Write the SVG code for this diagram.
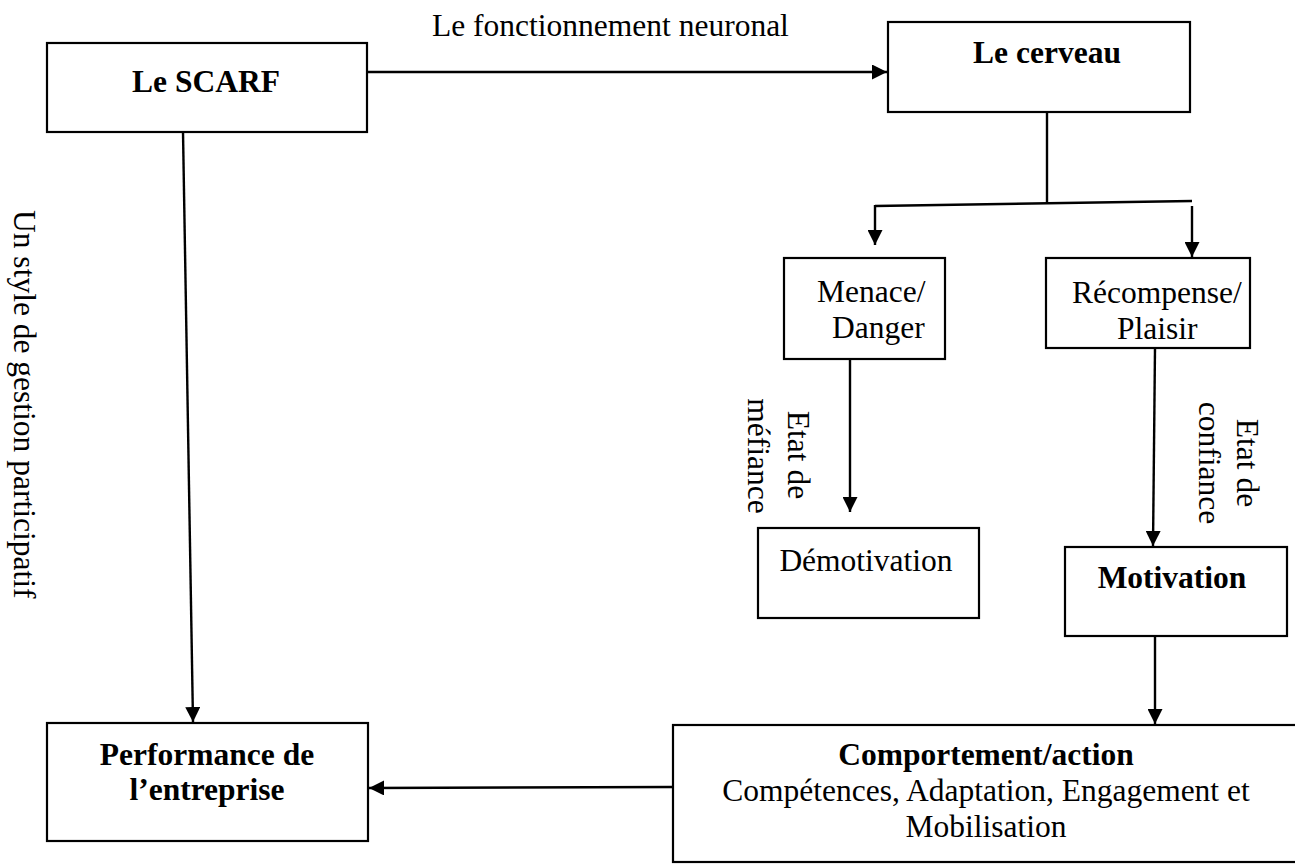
<svg xmlns="http://www.w3.org/2000/svg" width="1295" height="865" viewBox="0 0 1295 865">
<style>
  .box { fill: #ffffff; stroke: #000000; stroke-width: 2.2; }
  .ln { fill: none; stroke: #000000; stroke-width: 2.4; }
  .t { font-family: "Liberation Serif", "Times New Roman", serif; font-size: 31.5px; fill: #000000; }
  .b { font-weight: bold; }
  .c { text-anchor: middle; }
</style>
<defs>
  <marker id="arr" viewBox="0 0 10 10" refX="10" refY="5" markerWidth="15" markerHeight="15" markerUnits="userSpaceOnUse" orient="auto">
    <path d="M0,0 L10,5 L0,10 z" fill="#000000"/>
  </marker>
</defs>
<rect width="1295" height="865" fill="#ffffff"/>

<g id="connectors">
  <line class="ln" x1="367" y1="72" x2="887" y2="72" marker-end="url(#arr)"/>
  <line class="ln" x1="183" y1="132" x2="193" y2="722" marker-end="url(#arr)"/>
  <line class="ln" x1="1047" y1="112" x2="1047" y2="204"/>
  <line class="ln" x1="875" y1="206" x2="1192" y2="201"/>
  <line class="ln" x1="875" y1="205" x2="875" y2="245" marker-end="url(#arr)"/>
  <line class="ln" x1="1192" y1="206" x2="1192" y2="257" marker-end="url(#arr)"/>
  <line class="ln" x1="850" y1="359" x2="850" y2="512" marker-end="url(#arr)"/>
  <line class="ln" x1="1155" y1="348" x2="1153" y2="546" marker-end="url(#arr)"/>
  <line class="ln" x1="1155" y1="636" x2="1155" y2="724" marker-end="url(#arr)"/>
  <line class="ln" x1="673" y1="787" x2="369" y2="788" marker-end="url(#arr)"/>
</g>

<g id="label-fonctionnement">
  <text class="t" x="432" y="36">Le fonctionnement neuronal</text>
</g>
<g id="label-style">
  <text class="t" transform="translate(14,210) rotate(90)">Un style de gestion participatif</text>
</g>
<g id="label-mefiance">
  <text class="t c" transform="translate(788,455) rotate(90)">Etat de</text>
  <text class="t c" transform="translate(748,456) rotate(90)">méfiance</text>
</g>
<g id="label-confiance">
  <text class="t c" transform="translate(1237,463) rotate(90)">Etat de</text>
  <text class="t c" transform="translate(1199,463) rotate(90)">confiance</text>
</g>

<g id="node-scarf">
  <rect class="box" x="47" y="43" width="320" height="89"/>
  <text class="t b c" x="206" y="92">Le SCARF</text>
</g>
<g id="node-cerveau">
  <rect class="box" x="888" y="22" width="302" height="90"/>
  <text class="t b c" x="1047" y="63">Le cerveau</text>
</g>
<g id="node-menace">
  <rect class="box" x="784" y="258" width="161" height="101"/>
  <text class="t" x="817" y="302">Menace/</text>
  <text class="t" x="832" y="338">Danger</text>
</g>
<g id="node-recompense">
  <rect class="box" x="1046" y="258" width="204" height="90"/>
  <text class="t" x="1072" y="303">Récompense/</text>
  <text class="t" x="1117" y="339">Plaisir</text>
</g>
<g id="node-demotivation">
  <rect class="box" x="758" y="528" width="221" height="90"/>
  <text class="t c" x="866" y="571">Démotivation</text>
</g>
<g id="node-motivation">
  <rect class="box" x="1065" y="547" width="222" height="89"/>
  <text class="t b c" x="1172" y="588">Motivation</text>
</g>
<g id="node-comportement">
  <rect class="box" x="673" y="725" width="640" height="137"/>
  <text class="t b c" x="986" y="765">Comportement/action</text>
  <text class="t c" x="986" y="801">Compétences, Adaptation, Engagement et</text>
  <text class="t c" x="986" y="837">Mobilisation</text>
</g>
<g id="node-performance">
  <rect class="box" x="47" y="723" width="321" height="118"/>
  <text class="t b c" x="207" y="765">Performance de</text>
  <text class="t b c" x="207" y="800">l’entreprise</text>
</g>
</svg>
